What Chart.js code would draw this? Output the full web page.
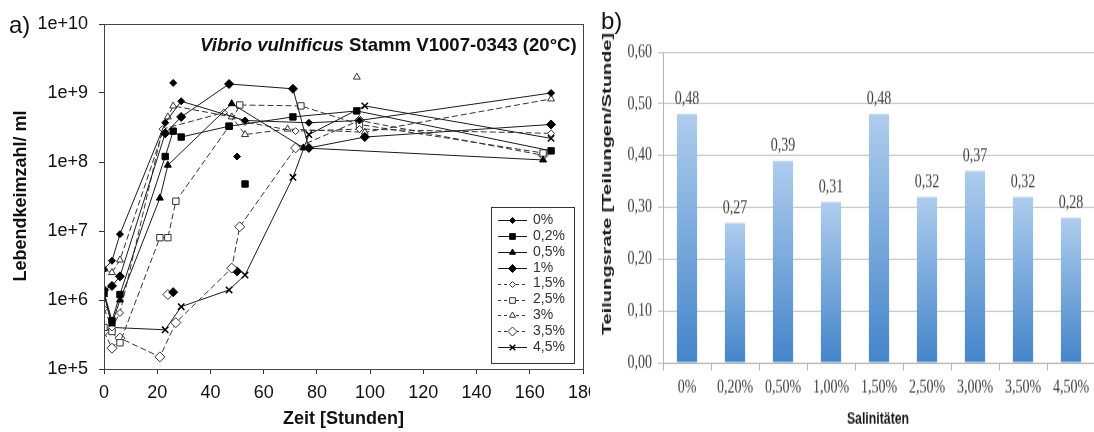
<!DOCTYPE html>
<html>
<head>
<meta charset="utf-8">
<script src="https://cdn.jsdelivr.net/npm/chart.js@4.4.1/dist/chart.umd.min.js"></script>
<style>
html,body{margin:0;padding:0;background:#fff;}
body{width:1094px;height:432px;overflow:hidden;position:relative;font-family:"Liberation Sans",Arial,sans-serif;}
#pa{position:absolute;left:0;top:0;width:590px;height:432px;overflow:hidden;}
#pb{position:absolute;left:590px;top:0;width:504px;height:332px;overflow:hidden;transform:scaleY(1.3);transform-origin:0 0;}
.lbl{position:absolute;font-size:24px;line-height:28px;color:#111;}
</style>
</head>
<body>
<div id="pa"><canvas id="ca" width="620" height="432"></canvas></div>
<div id="pb"><canvas id="cb" width="525" height="332"></canvas></div>
<div class="lbl" style="left:9px;top:11px">a)</div>
<div class="lbl" style="left:601px;top:7px">b)</div>
<script>
// ---- a) Lebendkeimzahl ueber die Zeit, je Salinitaet ----
const namen = ['0%', '0,2%', '0,5%', '1%', '1,5%', '2,5%', '3%', '3,5%', '4,5%'];

const zeit0 = [0, 3, 6, 23, 29, 53, 77, 96, 168];
const keime0 = [2.8e6, 3.7e6, 9e6, 3.7e8, 7.6e8, 4e8, 3.7e8, 4e8, 1e9];
const zeit1 = [0, 3, 6, 23, 26, 29, 47, 71, 95, 168];
const keime1 = [1.3e6, 5e5, 1.2e6, 1.2e8, 2.8e8, 2.3e8, 3.3e8, 4.5e8, 5.5e8, 1.45e8];
const zeit2 = [0, 3, 6, 21, 24, 48, 75, 165];
const keime2 = [1.2e6, 4.5e5, 1e6, 3e7, 9e7, 7e8, 1.6e8, 1.07e8];
const zeit3 = [0, 3, 6, 23, 29, 47, 71, 77, 98, 168];
const keime3 = [1.4e6, 1.6e6, 2.2e6, 2.6e8, 4.5e8, 1.35e9, 1.15e9, 1.6e8, 2.3e8, 3.5e8];
const zeit4 = [0, 3, 6, 22, 45, 53, 72, 96, 168];
const keime4 = [7.5e5, 4e5, 6.5e5, 3e8, 5.2e8, 3.8e8, 2.8e8, 3e8, 2.6e8];
const zeit5 = [0, 3, 6, 21, 24, 27, 47, 51, 74, 96, 165];
const keime5 = [4e5, 3.5e5, 2.4e5, 8e6, 8e6, 2.7e7, 3.3e8, 6.7e8, 6.5e8, 3.5e8, 1.35e8];
const zeit6 = [0, 3, 6, 24, 26, 48, 53, 69, 98, 168];
const keime6 = [2.8e6, 2.5e6, 3.8e6, 4.5e8, 6.5e8, 4.5e8, 2.5e8, 3e8, 2.7e8, 8.2e8];
const zeit7 = [0, 3, 6, 21, 27, 48, 51, 72, 96, 165];
const keime7 = [3.5e5, 2e5, 2.8e5, 1.5e5, 4.7e5, 2.9e6, 1.15e7, 1.6e8, 4e8, 1.25e8];
const zeit8 = [0, 3, 23, 29, 47, 53, 71, 77, 98, 168];
const keime8 = [1.3e6, 4e5, 3.7e5, 8e5, 1.4e6, 2.3e6, 6e7, 2.5e8, 6.5e8, 2.2e8];

// einzelne, nicht verbundene Messpunkte
const einzelSerie = [0, 0, 1, 3, 3, 6, 7];
const einzelZeit = [26, 50, 53, 26, 50, 95, 24];
const einzelKeime = [1.4e9, 1.2e8, 4.8e7, 1.3e6, 2.6e6, 1.7e9, 1.2e6];

const yTicksA = [1e5, 1e6, 1e7, 1e8, 1e9, 1e10];

// ---- b) Teilungsrate ----
const salinitaeten = ['0%', '0,20%', '0,50%', '1,00%', '1,50%', '2,50%', '3,00%', '3,50%', '4,50%'];
const teilungsrate = [0.48, 0.27, 0.39, 0.31, 0.48, 0.32, 0.37, 0.32, 0.28];

const SANS = '"Liberation Sans", Arial, sans-serif';
const SERIF = '"Liberation Serif", "Times New Roman", serif';

const zeiten = [zeit0, zeit1, zeit2, zeit3, zeit4, zeit5, zeit6, zeit7, zeit8];
const keime = [keime0, keime1, keime2, keime3, keime4, keime5, keime6, keime7, keime8];

// marker / line look per series
const stil = [
  { p: 'rectRot', r: 3.5, voll: true, dash: [] },
  { p: 'rect', r: 4.5, voll: true, dash: [] },
  { p: 'triangle', r: 4, voll: true, dash: [] },
  { p: 'rectRot', r: 4.5, voll: true, dash: [] },
  { p: 'rectRot', r: 3.5, voll: false, dash: [6, 3] },
  { p: 'rect', r: 4.5, voll: false, dash: [6, 3] },
  { p: 'triangle', r: 4, voll: false, dash: [6, 3] },
  { p: 'rectRot', r: 5, voll: false, dash: [6, 3] },
  { p: 'crossRot', r: 4.5, voll: true, dash: [] }
];

function punktOpts(s) {
  return {
    pointStyle: s.p,
    pointRadius: s.r,
    pointBackgroundColor: s.voll ? '#000' : '#fff',
    pointBorderColor: s.voll ? '#000' : '#333',
    pointBorderWidth: s.p === 'crossRot' ? 1.5 : 1
  };
}

const datasetsA = [];
namen.forEach((n, i) => {
  const s = stil[i];
  datasetsA.push(Object.assign({
    label: n,
    data: zeiten[i].map((t, k) => ({ x: t, y: keime[i][k] })),
    borderColor: s.voll ? '#1a1a1a' : '#333',
    borderWidth: 1,
    borderDash: s.dash,
    tension: 0,
    fill: false
  }, punktOpts(s)));
});
einzelSerie.forEach((si, k) => {
  datasetsA.push(Object.assign({
    label: namen[si] + ' einzeln',
    data: [{ x: einzelZeit[k], y: einzelKeime[k] }],
    showLine: false
  }, punktOpts(stil[si])));
});

function drawMarker(ctx, s, x, y) {
  ctx.save();
  ctx.fillStyle = s.voll ? '#000' : '#fff';
  ctx.strokeStyle = s.voll ? '#000' : '#333';
  ctx.lineWidth = s.p === 'crossRot' ? 1.5 : 1;
  ctx.setLineDash([]);
  Chart.helpers.drawPoint(ctx, { pointStyle: s.p, radius: s.r - 0.5, rotation: 0, borderWidth: ctx.lineWidth }, x, y);
  ctx.restore();
}

const rahmenA = {
  id: 'rahmenA',
  afterDraw(chart) {
    const { ctx, chartArea: a } = chart;
    ctx.save();
    ctx.strokeStyle = '#444';
    ctx.lineWidth = 1;
    ctx.strokeRect(Math.round(a.left) + 0.5, Math.round(a.top) + 0.5, Math.round(a.right - a.left), Math.round(a.bottom - a.top));

    // Titel im Diagramm
    const teil1 = 'Vibrio vulnificus';
    const teil2 = ' Stamm V1007-0343 (20°C)';
    let fs = 18;
    ctx.font = 'italic bold ' + fs + 'px ' + SANS;
    let w1 = ctx.measureText(teil1).width;
    ctx.font = 'bold ' + fs + 'px ' + SANS;
    let w2 = ctx.measureText(teil2).width;
    fs = fs * 377 / (w1 + w2);
    ctx.font = 'italic bold ' + fs + 'px ' + SANS;
    w1 = ctx.measureText(teil1).width;
    ctx.fillStyle = '#111';
    ctx.textBaseline = 'middle';
    ctx.textAlign = 'left';
    ctx.fillText(teil1, 200, 46);
    ctx.font = 'bold ' + fs + 'px ' + SANS;
    ctx.fillText(teil2, 200 + w1, 46);

    // Achsentitel
    ctx.font = 'bold 18px ' + SANS;
    ctx.textAlign = 'center';
    ctx.fillText('Zeit [Stunden]', (a.left + a.right) / 2, 419);
    ctx.save();
    ctx.translate(21, 196);
    ctx.rotate(-Math.PI / 2);
    ctx.fillText('Lebendkeimzahl/ ml', 0, 0);
    ctx.restore();

    // Legende
    const lx = 491, ly = 207, lw = 83, lh = 156;
    ctx.fillStyle = '#fff';
    ctx.fillRect(lx, ly, lw, lh);
    ctx.strokeStyle = '#333';
    ctx.strokeRect(lx + 0.5, ly + 0.5, lw, lh);
    ctx.font = '14px ' + SANS;
    ctx.textAlign = 'left';
    namen.forEach((n, i) => {
      const y = 220 + i * 15.9;
      const s = stil[i];
      ctx.strokeStyle = s.voll ? '#1a1a1a' : '#333';
      ctx.lineWidth = 1;
      ctx.setLineDash(s.dash.length ? [3, 3] : []);
      ctx.beginPath();
      ctx.moveTo(498, Math.round(y) + 0.5);
      ctx.lineTo(527, Math.round(y) + 0.5);
      ctx.stroke();
      ctx.setLineDash([]);
      drawMarker(ctx, s, 512.5, Math.round(y) + 0.5);
      ctx.fillStyle = '#333';
      ctx.fillText(n, 533, y);
    });
    ctx.restore();
  }
};

new Chart(document.getElementById('ca'), {
  type: 'line',
  data: { datasets: datasetsA },
  options: {
    responsive: false,
    animation: false,
    devicePixelRatio: 1,
    layout: { padding: { top: 24, right: 37, left: 0, bottom: 0 } },
    plugins: { legend: { display: false }, tooltip: { enabled: false } },
    scales: {
      x: {
        type: 'linear', min: 0, max: 180,
        afterFit: s => { s.height = 63; },
        ticks: { stepSize: 20, font: { size: 18, family: SANS }, color: '#111', padding: 8 },
        grid: { drawOnChartArea: false, tickLength: 5, color: '#333' },
        border: { color: '#333' }
      },
      y: {
        type: 'logarithmic', min: 1e5, max: 1e10,
        afterFit: s => { s.width = 104; },
        afterBuildTicks: s => { s.ticks = yTicksA.map(v => ({ value: v })); },
        ticks: {
          callback: v => '1e+' + Math.round(Math.log10(v)),
          font: { size: 18, family: SANS }, color: '#111', padding: 11
        },
        grid: { drawOnChartArea: false, tickLength: 5, color: '#333' },
        border: { color: '#333' }
      }
    }
  },
  plugins: [rahmenA]
});

// ---- b) Balken ----
function balkenFarbe(c) {
  const ch = c.chart;
  if (!ch.chartArea || c.type !== 'data') return '#7aa8dc';
  const ys = ch.scales.y;
  const top = ys.getPixelForValue(c.raw);
  const bot = ys.getPixelForValue(0);
  const g = ch.ctx.createLinearGradient(0, top, 0, bot);
  g.addColorStop(0, '#afcdee');
  g.addColorStop(1, '#4485ca');
  return g;
}

const texteB = {
  id: 'texteB',
  afterDatasetsDraw(chart) {
    const { ctx } = chart;
    const meta = chart.getDatasetMeta(0);
    ctx.save();
    ctx.font = '14px ' + SERIF;
    ctx.fillStyle = '#404040';
    ctx.textAlign = 'center';
    ctx.textBaseline = 'bottom';
    meta.data.forEach((bar, i) => {
      ctx.fillText(teilungsrate[i].toFixed(2).replace('.', ','), bar.x, bar.y - 4);
    });
    ctx.restore();
  },
  afterDraw(chart) {
    const { ctx } = chart;
    ctx.save();
    ctx.fillStyle = '#1a1a1a';
    ctx.textAlign = 'center';
    ctx.textBaseline = 'middle';
    ctx.font = 'bold 12.3px ' + SANS;
    ctx.fillText('Salinitäten', 288, 323);
    ctx.translate(18, 141.5);
    ctx.rotate(-Math.PI / 2);
    ctx.scale(1.28, 1);
    ctx.font = 'bold 12px ' + SANS;
    ctx.fillText('Teilungsrate [Teilungen/Stunde]', 0, 0);
    ctx.restore();
  }
};

new Chart(document.getElementById('cb'), {
  type: 'bar',
  data: {
    labels: salinitaeten,
    datasets: [{ data: teilungsrate, backgroundColor: balkenFarbe, barPercentage: 0.42, categoryPercentage: 1 }]
  },
  options: {
    responsive: false,
    animation: false,
    devicePixelRatio: 1,
    layout: { padding: { top: 40, right: 20, left: 0, bottom: 0 } },
    plugins: { legend: { display: false }, tooltip: { enabled: false } },
    scales: {
      x: {
        afterFit: s => { s.height = 53; },
        ticks: { font: { size: 14, family: SERIF }, color: '#404040', padding: 5 },
        grid: { offset: true, drawOnChartArea: false, tickLength: 6, color: '#b4b4b4' },
        border: { color: '#b4b4b4' }
      },
      y: {
        min: 0, max: 0.6,
        afterFit: s => { s.width = 73; },
        ticks: { stepSize: 0.1, callback: v => v.toFixed(2).replace('.', ','), font: { size: 14, family: SERIF }, color: '#404040', padding: 6 },
        grid: { color: '#c8c8c8', tickLength: 5 },
        border: { color: '#b4b4b4' }
      }
    }
  },
  plugins: [texteB]
});
</script>
</body>
</html>
